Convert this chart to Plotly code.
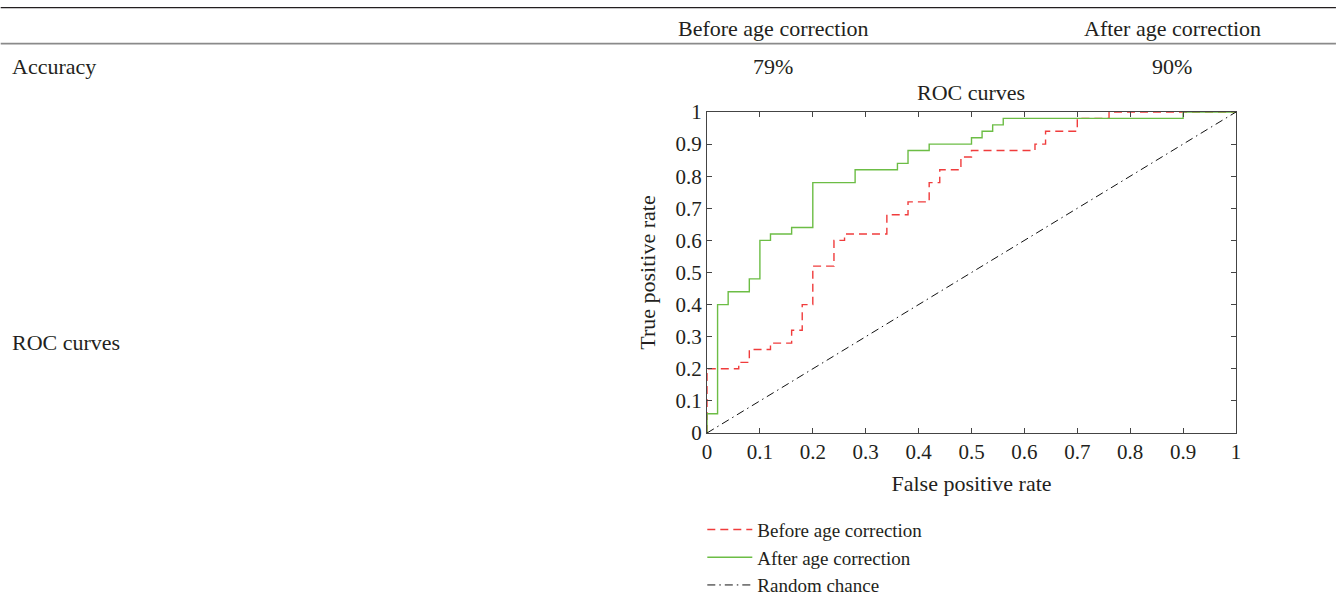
import plotly.graph_objects as go

# ROC step points (false positive rate, true positive rate)
fpr_before = [0, 0, 0.06, 0.08, 0.12, 0.16, 0.18, 0.20, 0.24, 0.26, 0.34, 0.38,
              0.42, 0.44, 0.48, 0.50, 0.62, 0.64, 0.70, 0.76, 1.0]
tpr_before = [0, 0.20, 0.22, 0.26, 0.28, 0.32, 0.40, 0.52, 0.60, 0.62, 0.68, 0.72,
              0.78, 0.82, 0.86, 0.88, 0.90, 0.94, 0.98, 1.0, 1.0]

fpr_after = [0, 0, 0.02, 0.04, 0.08, 0.10, 0.12, 0.16, 0.20, 0.28, 0.36, 0.38,
             0.42, 0.50, 0.52, 0.54, 0.56, 0.90, 1.0]
tpr_after = [0, 0.06, 0.40, 0.44, 0.48, 0.60, 0.62, 0.64, 0.78, 0.82, 0.84, 0.88,
             0.90, 0.92, 0.94, 0.96, 0.98, 1.0, 1.0]

chance = [0, 1]

col_headers = ["Before age correction", "After age correction"]
accuracy = ["79%", "90%"]
row_labels = ["Accuracy", "ROC curves"]
ticks = [0, 0.1, 0.2, 0.3, 0.4, 0.5, 0.6, 0.7, 0.8, 0.9, 1]
tick_text = ["0", "0.1", "0.2", "0.3", "0.4", "0.5", "0.6", "0.7", "0.8", "0.9", "1"]

W, H = 1336, 601
L, R, T, B = 706.7, 1236.0, 112.3, 433.3
FONT = "Liberation Serif"
TXT = "#231f20"
FS = 22


def px_x(px):
    return (px - L) / (R - L)


def px_y(py):
    return (B - py) / (B - T)


fig = go.Figure()
fig.add_trace(go.Scatter(
    x=fpr_before, y=tpr_before, mode="lines", line_shape="hv",
    name="Before age correction",
    line=dict(color="#f03c3c", width=1.4, dash="8px,5px"),
))
fig.add_trace(go.Scatter(
    x=fpr_after, y=tpr_after, mode="lines", line_shape="hv",
    name="After age correction",
    line=dict(color="#6cbd45", width=1.4),
))
fig.add_trace(go.Scatter(
    x=chance, y=chance, mode="lines", name="Random chance",
    line=dict(color="#111111", width=1, dash="8px,4px,1.5px,4px"),
))

axis_common = dict(
    range=[0, 1], tickvals=ticks, ticktext=tick_text,
    ticks="inside", ticklen=5, tickcolor="#444", tickwidth=1,
    showline=True, linecolor="#444", linewidth=1, mirror="ticks",
    showgrid=False, zeroline=False,
    tickfont=dict(family=FONT, size=21, color=TXT),
)
fig.update_xaxes(**axis_common,
                 title=dict(text="False positive rate", standoff=12,
                            font=dict(family=FONT, size=FS, color=TXT)))
fig.update_yaxes(**axis_common,
                 title=dict(text="True positive rate", standoff=13,
                            font=dict(family=FONT, size=FS, color=TXT)))

annotations = []
for cx, text in zip([773, 1172], col_headers):
    annotations.append(dict(x=px_x(cx), y=px_y(29), text=text))
for cx, text in zip([773, 1172], accuracy):
    annotations.append(dict(x=px_x(cx), y=px_y(67), text=text))
annotations.append(dict(x=px_x(971), y=px_y(93), text="ROC curves"))
for ry, text in zip([67, 343], row_labels):
    annotations.append(dict(x=px_x(9), y=px_y(ry), text=text, xanchor="left"))
for a in annotations:
    a.setdefault("xanchor", "center")
    a.update(xref="paper", yref="paper", yanchor="middle", showarrow=False,
             font=dict(family=FONT, size=FS, color=TXT))

shapes = [
    dict(type="line", xref="paper", yref="paper", x0=px_x(0), x1=px_x(W),
         y0=px_y(8), y1=px_y(8), line=dict(color="#231f20", width=1.2)),
    dict(type="line", xref="paper", yref="paper", x0=px_x(0), x1=px_x(W),
         y0=px_y(44), y1=px_y(44), line=dict(color="#8a8a8a", width=1.8)),
]

fig.update_layout(
    width=W, height=H,
    margin=dict(l=L, r=W - R, t=T, b=H - B, autoexpand=False),
    paper_bgcolor="white", plot_bgcolor="white",
    showlegend=True,
    legend=dict(x=px_x(702), y=px_y(511), xanchor="left", yanchor="top",
                bgcolor="rgba(0,0,0,0)", tracegroupgap=0, itemwidth=45,
                font=dict(family=FONT, size=19, color=TXT)),
    annotations=annotations, shapes=shapes,
)

fig.write_html("out.html")
